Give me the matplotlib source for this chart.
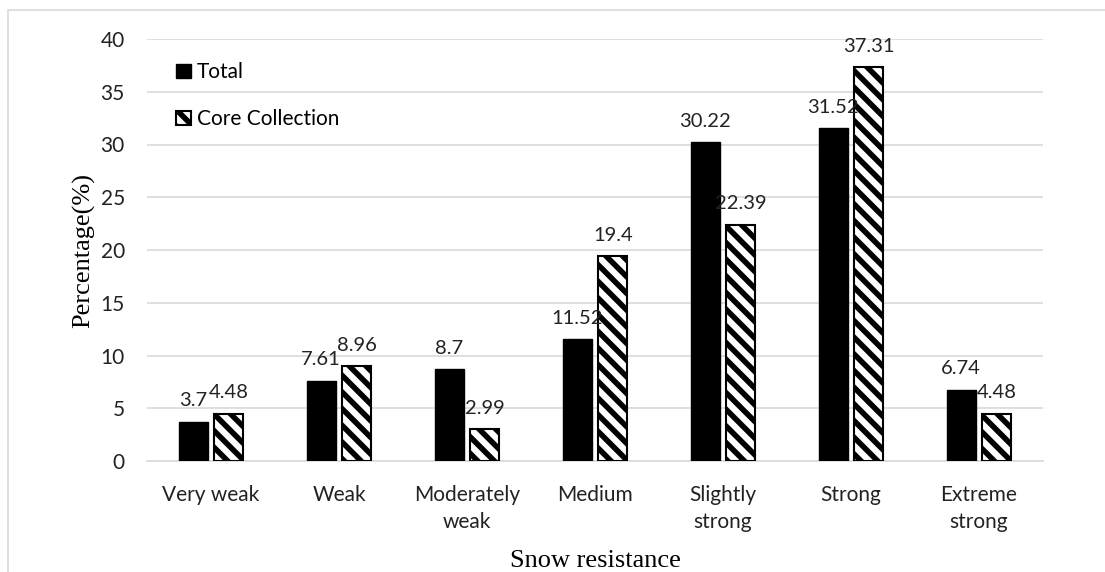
import matplotlib
matplotlib.use("Agg")
import matplotlib.pyplot as plt
import numpy as np
from matplotlib.patches import Rectangle

categories = ["Very weak", "Weak", "Moderately\nweak", "Medium",
              "Slightly\nstrong", "Strong", "Extreme\nstrong"]
total = [3.7, 7.61, 8.7, 11.52, 30.22, 31.52, 6.74]
core = [4.48, 8.96, 2.99, 19.4, 22.39, 37.31, 4.48]
yticks = [0, 5, 10, 15, 20, 25, 30, 35, 40]

plt.rcParams['hatch.linewidth'] = 4.0
plt.rcParams['font.family'] = ['Lato', 'DejaVu Sans']

fig = plt.figure(figsize=(11.05, 5.72), dpi=100)
ax = fig.add_axes([147/1105, 1 - 461/572, 896/1105, 422/572])

# light grey frame around the chart (left + top visible)
fig.patches.append(Rectangle((7.5/1105, -0.1), 1.2, 1.1 - 10/572,
                             transform=fig.transFigure, fill=False,
                             edgecolor='#d9d9d9', lw=1.2, zorder=0))

x = np.arange(len(categories))
w = 0.227
off = 0.14
b1 = ax.bar(x - off, total, w, color='black', edgecolor='black', lw=1,
            label='Total', zorder=3)
b2 = ax.bar(x + off, core, w, color='white', edgecolor='black', lw=1.5,
            hatch='\\\\', label='Core Collection', zorder=3)

ax.bar_label(b1, labels=[f"{v:g}" for v in total], padding=9, fontsize=14.5,
             color='#222222')
ax.bar_label(b2, labels=[f"{v:g}" for v in core], padding=9, fontsize=14.5,
             color='#222222')

ax.set_xlim(-0.5, 6.5)
ax.set_ylim(0, 40)
ax.set_yticks(yticks)
ax.set_xticks(x)
ax.set_xticklabels(categories, fontsize=15, color='#222222', linespacing=1.45)
ax.tick_params(axis='y', labelsize=15, labelcolor='#222222', length=0, pad=16)
ax.tick_params(axis='x', length=0, pad=17)
ax.grid(axis='y', color='#d9d9d9', lw=1.2, zorder=0)
ax.set_axisbelow(True)
for s in ['top', 'right', 'left']:
    ax.spines[s].set_visible(False)
ax.spines['bottom'].set_color('#d9d9d9')
ax.spines['bottom'].set_linewidth(1.2)

ax.set_ylabel('Percentage(%)', family='Liberation Serif', fontsize=19,
              labelpad=4)
ax.set_xlabel('Snow resistance', family='Liberation Serif', fontsize=19,
              labelpad=13)

ax.legend(loc='upper left', bbox_to_anchor=(0.023, 0.965), frameon=False,
          fontsize=15, handlelength=0.7, handleheight=0.7, handletextpad=0.3,
          labelspacing=1.3, borderaxespad=0)

plt.savefig('out.png', dpi=100)
plt.close()
